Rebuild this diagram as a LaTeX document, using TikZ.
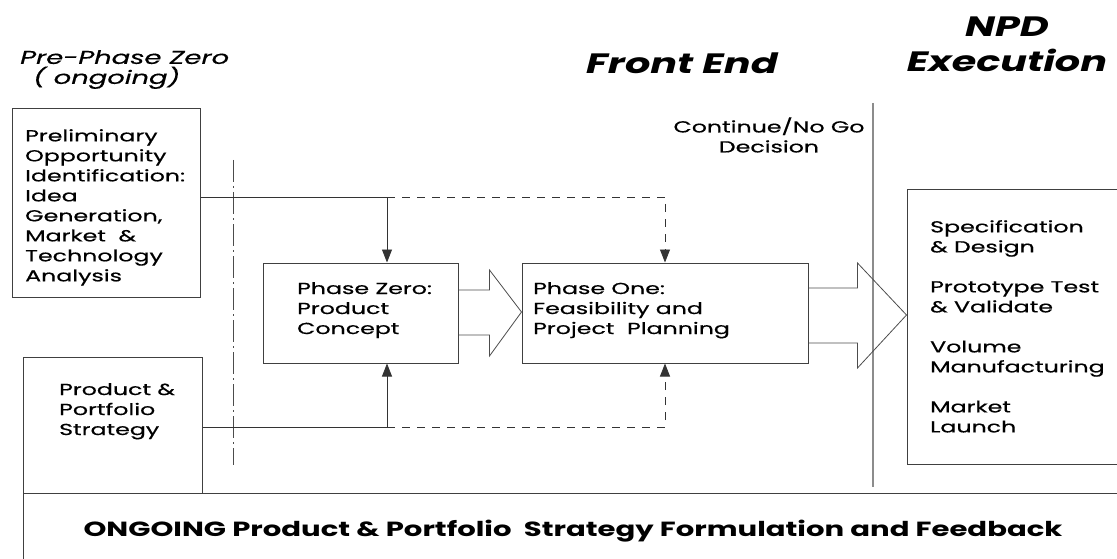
\documentclass[tikz,border=0pt]{standalone}
\usepackage{fontspec}
\setmainfont{Poppins}[FakeStretch=1.42]
\newfontfamily\bodyfont{Poppins}[FakeStretch=1.48, FakeBold=0.5]
\usetikzlibrary{arrows.meta,calc}

\tikzset{
  box/.style={draw=black!75, line width=1pt, inner sep=0pt},
  txt/.style={inner sep=0pt, align=left, font=\bodyfont\fontsize{16}{20}\selectfont},
  link/.style={draw=black!80, line width=0.8pt, -{Triangle[length=13pt,width=10pt]}},
  feed/.style={link, dash pattern=on 8pt off 7pt},
  fat/.style={draw=black!70, line width=0.8pt},
  heading/.style={inner sep=0pt, align=center, font=\fontsize{28}{35}\selectfont\bfseries\itshape}
}

\begin{document}
\begin{tikzpicture}[x=1pt,y=-1pt]
  \clip (0,0) rectangle (1117,559);

  % headings
  \node[txt, anchor=north west, font=\bodyfont\fontsize{18.5}{20}\selectfont\itshape] (prephase) at (20,50) {Pre-Phase Zero\\\hspace{0.7em}( ongoing)};
  \node[heading] (frontend) at (682,63) {Front End};
  \node[heading, anchor=north] (npd) at (1007,17) {NPD\\Execution};

  % boxes
  \node[box, minimum width=188, minimum height=188] (prelim) at (106,203) {};
  \node[txt, anchor=north west] (prelimtxt) at (25,129) {Preliminary\\Opportunity\\Identification:\\Idea\\Generation,\\Market \ \&\\Technology\\Analysis};

  \node[box, minimum width=179, minimum height=136] (strategy) at (112.5,425) {};
  \node[txt, anchor=north west] (strategytxt) at (59,383) {Product \&\\Portfolio\\Strategy};

  \node[box, minimum width=195, minimum height=100] (zero) at (360.5,313) {};
  \node[txt, anchor=north west] (zerotxt) at (297,282) {Phase Zero:\\Product\\Concept};

  \node[box, minimum width=286, minimum height=100] (one) at (665,313) {};
  \node[txt, anchor=north west] (onetxt) at (533,282) {Phase One:\\Feasibility and\\Project \ Planning};

  \node[box, minimum width=230, minimum height=274] (exec) at (1022,327) {};
  \node[txt, anchor=north west] (exectxt) at (930,220) {Specification\\\& Design\\[20pt]Prototype Test\\\& Validate\\[20pt]Volume\\Manufacturing\\[20pt]Market\\Launch};

  \node[box, minimum width=1120, minimum height=90] (ongoing) at (583,538) {};
  \node[inner sep=0pt, font=\fontsize{20.5}{22}\selectfont\bfseries] (ongoingtxt) at (573,531) {ONGOING Product \& Portfolio \ Strategy Formulation and Feedback};

  % phase boundaries
  \coordinate (splittop) at (233,160);
  \coordinate (splitbot) at (233,465);
  \draw[black!70, line width=0.8pt, dash pattern=on 22pt off 4pt on 2pt off 4pt] (splittop) -- (splitbot);

  \coordinate (gotop) at (873,103);
  \coordinate (gobot) at (873,487);
  \draw[black!45, line width=1.8pt] (gotop) -- (gobot);
  \node[txt, align=center] (gonogo) at (769,135) {Continue/No Go\\Decision};

  % inputs into the two phases
  \coordinate (topsplit) at (387,197);
  \coordinate (botsplit) at (387,427);
  \draw[link] ([yshift=6pt]prelim.east) -| ([xshift=26.5pt]zero.north);
  \draw[feed] (topsplit) -| (one.north);
  \draw[link] ([yshift=-2pt]strategy.east) -| ([xshift=26.5pt]zero.south);
  \draw[feed] (botsplit) -| (one.south);

  % block arrows
  \draw[fat] ($(zero.east)+(0,-23)$) -- ($(zero.east)+(31,-23)$) -- ($(zero.east)+(31,-43)$)
    -- ($(one.west)+(0,-1)$) -- ($(zero.east)+(31,43)$) -- ($(zero.east)+(31,22)$) -- ($(zero.east)+(0,22)$);
  \draw[fat] ($(one.east)+(0,-25)$) -- ($(one.east)+(49,-25)$) -- ($(one.east)+(49,-50)$)
    -- ($(one.east -| exec.west)+(0,2)$) -- ($(one.east)+(49,55)$) -- ($(one.east)+(49,30)$) -- ($(one.east)+(0,30)$);
\end{tikzpicture}
\end{document}
